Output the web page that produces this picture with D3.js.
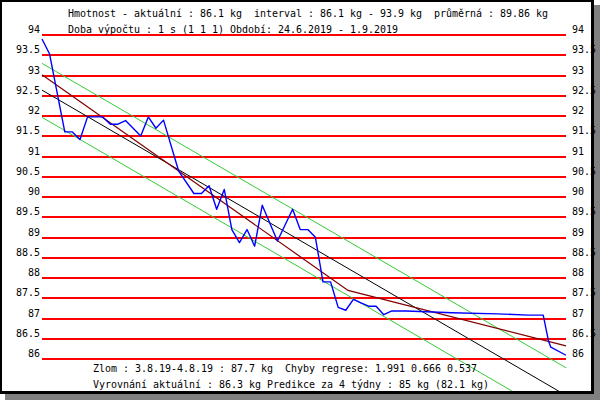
<!DOCTYPE html>
<html>
<head>
<meta charset="utf-8">
<script src="https://cdn.jsdelivr.net/npm/d3@7"></script>
<style>
  html, body { margin: 0; padding: 0; background: #fff; }
  text { font-family: "DejaVu Sans Mono", "Liberation Mono", monospace; font-size: 10.4px; fill: #000; white-space: pre; }
</style>
</head>
<body>
<div id="chart"></div>
<script>
// hmotnost - dny od 24.6.2019
const days = [0, 1, 3, 4, 5, 6, 8, 9, 10, 11, 13, 14, 15, 16, 18, 20, 21, 22, 23, 24,
  25, 26, 27, 28, 29, 31, 33, 34, 35, 36, 37, 38, 39, 40, 41, 42, 43, 44, 45, 46,
  48, 54, 60, 64, 66, 66.7, 67, 69];
const weights = [93.90, 93.53, 91.61, 91.61, 91.42, 91.98, 91.98, 91.80, 91.80, 91.89,
  91.51, 91.98, 91.70, 91.90, 90.64, 90.09, 90.09, 90.28, 89.70, 90.19,
  89.20, 88.88, 89.20, 88.79, 89.80, 88.92, 89.70, 89.20, 89.20, 89.01,
  87.91, 87.91, 87.28, 87.21, 87.48, 87.39, 87.31, 87.31, 87.10, 87.19,
  87.19, 87.15, 87.12, 87.09, 87.09, 86.45, 86.30, 86.10];

// regrese (cerna), pasmo chyby (zelena), lomena regrese (tmave cervena)
const lineDays = [0, 69];
const regression = [92.64, 85.11];
const bandUpper = [93.30, 85.79];
const bandLower = [91.97, 84.44];
const brokenDays = [0, 40.3, 69];
const brokenValues = [93.02, 87.7, 86.33];

const yTicks = [94, 93.5, 93, 92.5, 92, 91.5, 91, 90.5, 90, 89.5, 89, 88.5, 88, 87.5, 87, 86.5, 86];

const headerLines = [
  "Hmotnost - aktuální : 86.1 kg  interval : 86.1 kg - 93.9 kg  průměrná : 89.86 kg",
  "Doba výpočtu : 1 s (1 1 1) Období: 24.6.2019 - 1.9.2019"
];
const footerLines = [
  "Zlom : 3.8.19-4.8.19 : 87.7 kg  Chyby regrese: 1.991 0.666 0.537",
  "Vyrovnání aktuální : 86.3 kg Predikce za 4 týdny : 85 kg (82.1 kg)"
];

const width = 600, height = 400;
const charW = 6;

const svg = d3.select("#chart").append("svg")
  .attr("width", width).attr("height", height);

// ramecek se stinem
svg.append("rect").attr("x", 5).attr("y", 5).attr("width", 595).attr("height", 395).attr("fill", "#808080");
svg.append("rect").attr("x", 0).attr("y", 0).attr("width", 594).attr("height", 394).attr("fill", "#000");
svg.append("rect").attr("x", 2).attr("y", 2).attr("width", 589).attr("height", 389).attr("fill", "#fff");

svg.append("clipPath").attr("id", "panel")
  .append("rect").attr("x", 2).attr("y", 2).attr("width", 589).attr("height", 389);

const x = d3.scaleLinear().domain([0, 69]).range([42, 566]);
const y = d3.scaleLinear().domain([86, 94]).range([359.3, 35]);

// vodorovne cary
svg.selectAll(".grid")
  .data(yTicks)
  .join("line")
  .attr("class", "grid")
  .attr("x1", x(0)).attr("x2", x(69))
  .attr("y1", d => Math.round(y(d))).attr("y2", d => Math.round(y(d)))
  .attr("stroke", "#ff0000").attr("stroke-width", 2)
  .attr("shape-rendering", "crispEdges");

// popisky osy vlevo i vpravo
svg.selectAll(".lab-l")
  .data(yTicks)
  .join("text")
  .attr("class", "lab-l")
  .attr("x", 40).attr("y", d => Math.round(y(d)) - 2)
  .attr("text-anchor", "end")
  .attr("textLength", d => String(d).length * charW)
  .attr("lengthAdjust", "spacingAndGlyphs")
  .text(d => d);

svg.selectAll(".lab-r")
  .data(yTicks)
  .join("text")
  .attr("class", "lab-r")
  .attr("x", 572).attr("y", d => Math.round(y(d)) - 2)
  .attr("textLength", d => String(d).length * charW)
  .attr("lengthAdjust", "spacingAndGlyphs")
  .text(d => d);

const plot = svg.append("g").attr("clip-path", "url(#panel)");
const line = d3.line().x(d => x(d[0])).y(d => y(d[1]));

plot.append("path")
  .attr("d", line(d3.zip(lineDays, bandUpper)))
  .attr("fill", "none").attr("stroke", "#33cc33").attr("stroke-width", 1);
plot.append("path")
  .attr("d", line(d3.zip(lineDays, bandLower)))
  .attr("fill", "none").attr("stroke", "#33cc33").attr("stroke-width", 1);
plot.append("path")
  .attr("d", line(d3.zip(lineDays, regression)))
  .attr("fill", "none").attr("stroke", "#000").attr("stroke-width", 1);
plot.append("path")
  .attr("d", line(d3.zip(brokenDays, brokenValues)))
  .attr("fill", "none").attr("stroke", "#800000").attr("stroke-width", 1.2);

plot.append("path")
  .attr("d", line(d3.zip(days, weights)))
  .attr("fill", "none").attr("stroke", "#0000ff").attr("stroke-width", 1.4)
  .attr("stroke-linejoin", "round");

// texty nahore a dole
svg.selectAll(".head")
  .data(headerLines)
  .join("text")
  .attr("class", "head")
  .attr("x", 68).attr("y", (d, i) => 17 + i * 16)
  .attr("textLength", d => d.length * charW)
  .attr("lengthAdjust", "spacingAndGlyphs")
  .text(d => d);

svg.selectAll(".foot")
  .data(footerLines)
  .join("text")
  .attr("class", "foot")
  .attr("x", 93).attr("y", (d, i) => 372 + i * 16)
  .attr("textLength", d => d.length * charW)
  .attr("lengthAdjust", "spacingAndGlyphs")
  .text(d => d);
</script>
</body>
</html>
